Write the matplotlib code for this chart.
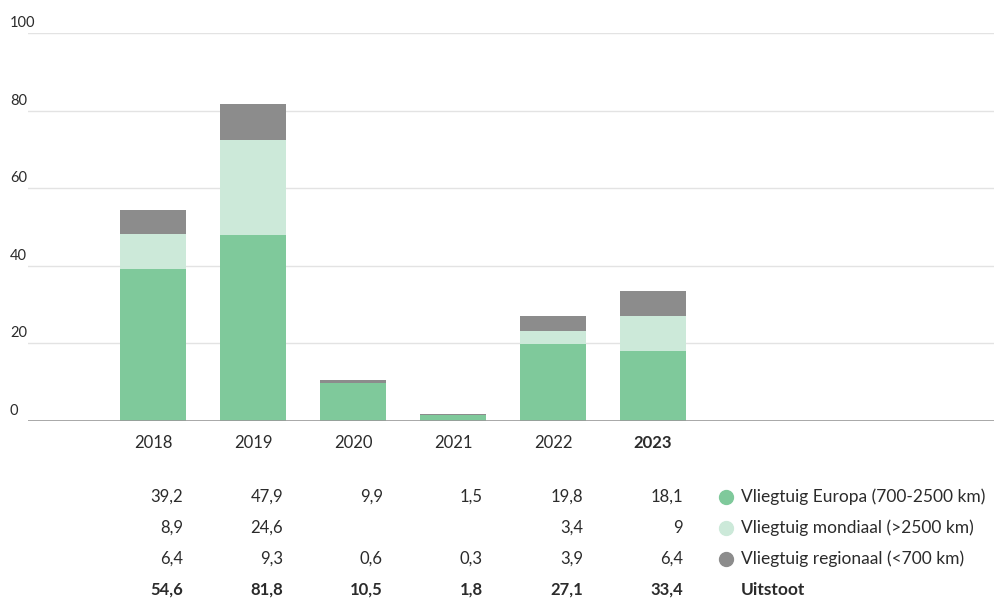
import numpy as np
import matplotlib.pyplot as plt
import matplotlib.transforms as mtransforms
from matplotlib.lines import Line2D

plt.rcParams['font.family'] = ['Lato', 'DejaVu Sans']

# data
years = ['2018', '2019', '2020', '2021', '2022', '2023']
europa = [39.2, 47.9, 9.9, 1.5, 19.8, 18.1]
mondiaal = [8.9, 24.6, None, None, 3.4, 9]
regionaal = [6.4, 9.3, 0.6, 0.3, 3.9, 6.4]
totaal = [54.6, 81.8, 10.5, 1.8, 27.1, 33.4]

series_names = ['Vliegtuig Europa (700-2500 km)',
                'Vliegtuig mondiaal (>2500 km)',
                'Vliegtuig regionaal (<700 km)']
colors = ['#7fc99b', '#cce9d9', '#8c8c8c']
text_color = '#2b2b2b'
yticks = [0, 20, 40, 60, 80, 100]

W, H = 995, 599
fig = plt.figure(figsize=(W / 100, H / 100), dpi=100)
ax = fig.add_axes([28 / W, 1 - 421 / H, 1 - 28 / W, (421 - 33) / H])

x = np.arange(len(years))
eu = np.array(europa, dtype=float)
mo = np.array([v if v is not None else 0 for v in mondiaal], dtype=float)
re = np.array(regionaal, dtype=float)

ax.bar(x, eu, width=0.66, color=colors[0], zorder=2)
ax.bar(x, mo, width=0.66, bottom=eu, color=colors[1], zorder=2)
ax.bar(x, re, width=0.66, bottom=eu + mo, color=colors[2], zorder=2)

ax.set_xlim(-1.25, 8.42)
ax.set_ylim(0, 100)
for s in ax.spines.values():
    s.set_visible(False)
ax.set_xticks([])
ax.set_yticks([])

# grid lines and labels (labels sit just above the lines)
for t in yticks:
    if t == 0:
        ax.axhline(0, color='#9a9a9a', lw=1.2, zorder=3)
    else:
        ax.axhline(t, color='#e3e3e3', lw=1, zorder=1)
ylab_tr = mtransforms.blended_transform_factory(fig.transFigure, ax.transData) + \
    mtransforms.ScaledTranslation(0, 3 / 100, fig.dpi_scale_trans)
for t in yticks:
    ax.text(10 / W, t, str(t), transform=ylab_tr, ha='left', va='bottom',
            fontsize=10.5, color=text_color)

tr = mtransforms.blended_transform_factory(ax.transData, fig.transFigure)

def fy(p):
    return 1 - p / H

# year labels
for i, y in enumerate(years):
    ax.text(i, fy(443), y, transform=tr, ha='center', va='center', fontsize=12,
            color=text_color, fontweight='bold' if y == '2023' else 'normal')

def fmt(v):
    return '{:g}'.format(v).replace('.', ',')

rows = [europa, mondiaal, regionaal, totaal]
row_y = [497, 528, 559, 590]
for r, (vals, py) in enumerate(zip(rows, row_y)):
    bold = r == 3
    for i, v in enumerate(vals):
        if v is None:
            continue
        ax.text(i + 0.3, fy(py), fmt(v), transform=tr, ha='right', va='center',
                fontsize=12, color=text_color,
                fontweight='bold' if bold else 'normal')

# legend in the table
for name, c, py in zip(series_names, colors, row_y[:3]):
    fig.add_artist(Line2D([726 / W], [fy(py)], marker='o', markersize=10,
                          color=c, linestyle='none', transform=fig.transFigure))
    fig.text(741 / W, fy(py), name, ha='left', va='center', fontsize=12.5,
             color=text_color)
fig.text(741 / W, fy(row_y[3]), 'Uitstoot', ha='left', va='center', fontsize=12.5,
         color=text_color, fontweight='bold')

fig.savefig('out.png', dpi=100)
